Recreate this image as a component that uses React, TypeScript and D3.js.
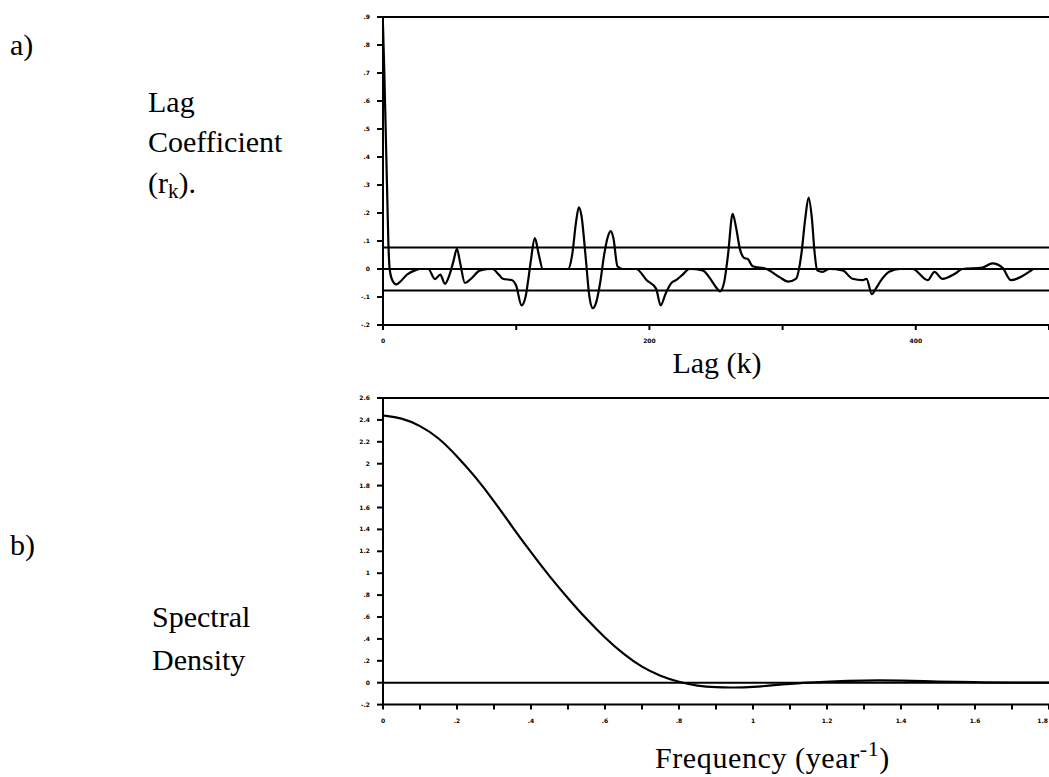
import React from "react";
import * as d3 from "d3";

// Panel a: autocorrelation of the series
const lags = [
  0, 1, 2, 3, 4, 5, 7, 10, 13, 18, 24, 28, 34, 39, 43, 46.5, 50, 53, 55.5, 58,
  61.5, 66, 73, 82, 87, 90, 97, 100, 104, 107, 109, 111, 114, 117, 120, 139,
  142, 145, 147, 149, 152, 155, 157.5, 160, 163, 166, 168.5, 171, 173, 176,
  180, 190, 198, 205, 208.5, 212, 216.5, 220, 225, 230, 240, 245, 250, 253,
  256, 259, 262.5, 265, 268, 271, 274, 277.5, 288, 298, 304, 310, 314, 317,
  319.5, 322, 324, 326, 330, 335, 345, 352.5, 360, 363, 367, 370, 374, 380,
  388, 397.5, 409, 414, 420, 430, 435, 450, 457.5, 465, 471.5, 480, 485, 488,
];
const lagCoef = [
  0.87, 0.7, 0.5, 0.3, 0.1, 0.0, -0.04, -0.055, -0.045, -0.02, -0.005, 0, 0,
  -0.036, -0.02, -0.053, -0.02, 0.03, 0.072, 0.02, -0.05, -0.035, -0.005, 0,
  -0.02, -0.035, -0.04, -0.06, -0.13, -0.1, -0.04, 0.03, 0.11, 0.05, 0, 0,
  0.05, 0.17, 0.22, 0.19, 0.05, -0.1, -0.14, -0.12, -0.05, 0.05, 0.11, 0.135,
  0.11, 0.01, 0, 0, -0.04, -0.07, -0.13, -0.09, -0.05, -0.04, -0.02, 0,
  -0.005, -0.03, -0.065, -0.08, -0.05, 0.05, 0.197, 0.15, 0.07, 0.04, 0.035,
  0.01, 0, -0.03, -0.045, -0.035, 0.05, 0.18, 0.255, 0.18, 0.06, -0.005,
  -0.01, 0, -0.005, -0.035, -0.04, -0.035, -0.09, -0.07, -0.04, -0.01, 0, 0,
  -0.04, -0.01, -0.035, -0.015, 0, 0.005, 0.02, 0.005, -0.04, -0.025, -0.01, 0,
];
const confLimit = 0.077;
const lagTicks = [0, 100, 200, 300, 400, 500];
const lagTickLabels = ["0", "", "200", "", "400", ""];
const coefTicks = [0.9, 0.8, 0.7, 0.6, 0.5, 0.4, 0.3, 0.2, 0.1, 0, -0.1, -0.2];
const coefTickLabels = [".9", ".8", ".7", ".6", ".5", ".4", ".3", ".2", ".1", "0", "-.1", "-.2"];

// Panel b: spectral density
const freqs = [
  0, 0.05, 0.1, 0.15, 0.2, 0.25, 0.3, 0.35, 0.4, 0.45, 0.5, 0.55, 0.6, 0.65,
  0.7, 0.75, 0.8, 0.85, 0.9, 0.95, 1.0, 1.05, 1.1, 1.15, 1.2, 1.3, 1.4, 1.5,
  1.6, 1.7, 1.8,
];
const density = [
  2.44, 2.42, 2.35, 2.24, 2.07, 1.88, 1.66, 1.42, 1.19, 0.97, 0.77, 0.58, 0.41,
  0.26, 0.14, 0.06, 0.005, -0.03, -0.043, -0.045, -0.04, -0.025, -0.01, 0.0,
  0.01, 0.022, 0.02, 0.01, 0.004, 0.001, 0,
];
const freqTicks = [0, 0.1, 0.2, 0.3, 0.4, 0.5, 0.6, 0.7, 0.8, 0.9, 1, 1.1, 1.2, 1.3, 1.4, 1.5, 1.6, 1.7, 1.8];
const freqTickLabels = ["0", "", ".2", "", ".4", "", ".6", "", ".8", "", "1", "", "1.2", "", "1.4", "", "1.6", "", "1.8"];
const densTicks = [2.6, 2.4, 2.2, 2, 1.8, 1.6, 1.4, 1.2, 1, 0.8, 0.6, 0.4, 0.2, 0, -0.2];
const densTickLabels = ["2.6", "2.4", "2.2", "2", "1.8", "1.6", "1.4", "1.2", "1", ".8", ".6", ".4", ".2", "0", "-.2"];

const W = 1049;
const H = 777;
const serif = "'Liberation Serif', 'Times New Roman', serif";
const tiny = { fontFamily: "'DejaVu Sans', sans-serif", fontSize: 6, fontWeight: 700 } as const;

export default function App() {
  // scales for panel a
  const xA = d3.scaleLinear().domain([0, 500]).range([383, 1049]);
  const yA = d3.scaleLinear().domain([-0.2, 0.9]).range([325, 17]);
  // scales for panel b
  const xB = d3.scaleLinear().domain([0, 1.8]).range([383, 1049]);
  const yB = d3.scaleLinear().domain([-0.2, 2.6]).range([704.6, 398]);

  const lineA = d3
    .line<number>()
    .x((_, i) => xA(lags[i]))
    .y((d) => yA(d))
    .curve(d3.curveMonotoneX);
  const lineB = d3
    .line<number>()
    .x((_, i) => xB(freqs[i]))
    .y((d) => yB(d))
    .curve(d3.curveBasis);

  const x0 = 383;
  const x1 = 1049;

  return (
    <svg
      width={W}
      height={H}
      style={{ position: "absolute", left: 0, top: 0, background: "#fff" }}
    >
      {/* ---- panel a ---- */}
      <g stroke="#000" strokeWidth={2} fill="none">
        <line x1={x0} x2={x1} y1={yA(0.9)} y2={yA(0.9)} />
        <line x1={x0} x2={x1} y1={yA(-0.2)} y2={yA(-0.2)} />
        <line x1={x0} x2={x1} y1={yA(0)} y2={yA(0)} />
        <line x1={x0} x2={x1} y1={yA(confLimit)} y2={yA(confLimit)} />
        <line x1={x0} x2={x1} y1={yA(-confLimit)} y2={yA(-confLimit)} />
        <line x1={x0} x2={x0} y1={yA(0.9)} y2={yA(-0.2) + 4} />
        {coefTicks.map((t) => (
          <line key={"ca" + t} x1={x0 - 6} x2={x0} y1={yA(t)} y2={yA(t)} />
        ))}
        {lagTicks.map((t) => (
          <line key={"la" + t} x1={xA(t)} x2={xA(t)} y1={yA(-0.2)} y2={yA(-0.2) + 5} />
        ))}
        <path d={lineA(lagCoef) || ""} strokeWidth={2.2} strokeLinejoin="round" />
      </g>
      {coefTicks.map((t, i) => (
        <text key={"cal" + t} x={x0 - 13} y={yA(t) + 2} textAnchor="end" {...tiny}>
          {coefTickLabels[i]}
        </text>
      ))}
      {lagTicks.map((t, i) => (
        <text key={"lal" + t} x={xA(t)} y={yA(-0.2) + 18} textAnchor="middle" {...tiny}>
          {lagTickLabels[i]}
        </text>
      ))}

      {/* ---- panel b ---- */}
      <g stroke="#000" strokeWidth={2} fill="none">
        <line x1={x0} x2={x1} y1={yB(2.6)} y2={yB(2.6)} />
        <line x1={x0} x2={x1} y1={yB(-0.2)} y2={yB(-0.2)} />
        <line x1={x0} x2={x1} y1={yB(0)} y2={yB(0)} />
        <line x1={x0} x2={x0} y1={yB(2.6)} y2={yB(-0.2) + 4} />
        {densTicks.map((t) => (
          <line key={"db" + t} x1={x0 - 6} x2={x0} y1={yB(t)} y2={yB(t)} />
        ))}
        {freqTicks.map((t) => (
          <line key={"fb" + t} x1={xB(t)} x2={xB(t)} y1={yB(-0.2)} y2={yB(-0.2) + 5} />
        ))}
        <path d={lineB(density) || ""} strokeWidth={2.2} strokeLinejoin="round" />
      </g>
      {densTicks.map((t, i) => (
        <text key={"dbl" + t} x={x0 - 13} y={yB(t) + 2} textAnchor="end" {...tiny}>
          {densTickLabels[i]}
        </text>
      ))}
      {freqTicks.map((t, i) => (
        <text
          key={"fbl" + t}
          x={i === freqTicks.length - 1 ? x1 - 1 : xB(t)}
          y={yB(-0.2) + 18}
          textAnchor={i === freqTicks.length - 1 ? "end" : "middle"}
          {...tiny}
        >
          {freqTickLabels[i]}
        </text>
      ))}

      {/* ---- text labels ---- */}
      <g fontFamily={serif} fontSize={30} fill="#000">
        <text x={10} y={55}>a)</text>
        <text x={148} y={112}>Lag</text>
        <text x={148} y={152}>Coefficient</text>
        <text x={148} y={193}>
          (r<tspan fontSize={21} dy={5}>k</tspan>
          <tspan dy={-5}>).</tspan>
        </text>
        <text x={717} y={373} textAnchor="middle">Lag (k)</text>

        <text x={10} y={555}>b)</text>
        <text x={152} y={627}>Spectral</text>
        <text x={152} y={670}>Density</text>
        <text x={655} y={768} letterSpacing={0.6}>
          Frequency (year
          <tspan fontSize={22} dy={-12}>-1</tspan>
          <tspan dy={12}>)</tspan>
        </text>
      </g>
    </svg>
  );
}
